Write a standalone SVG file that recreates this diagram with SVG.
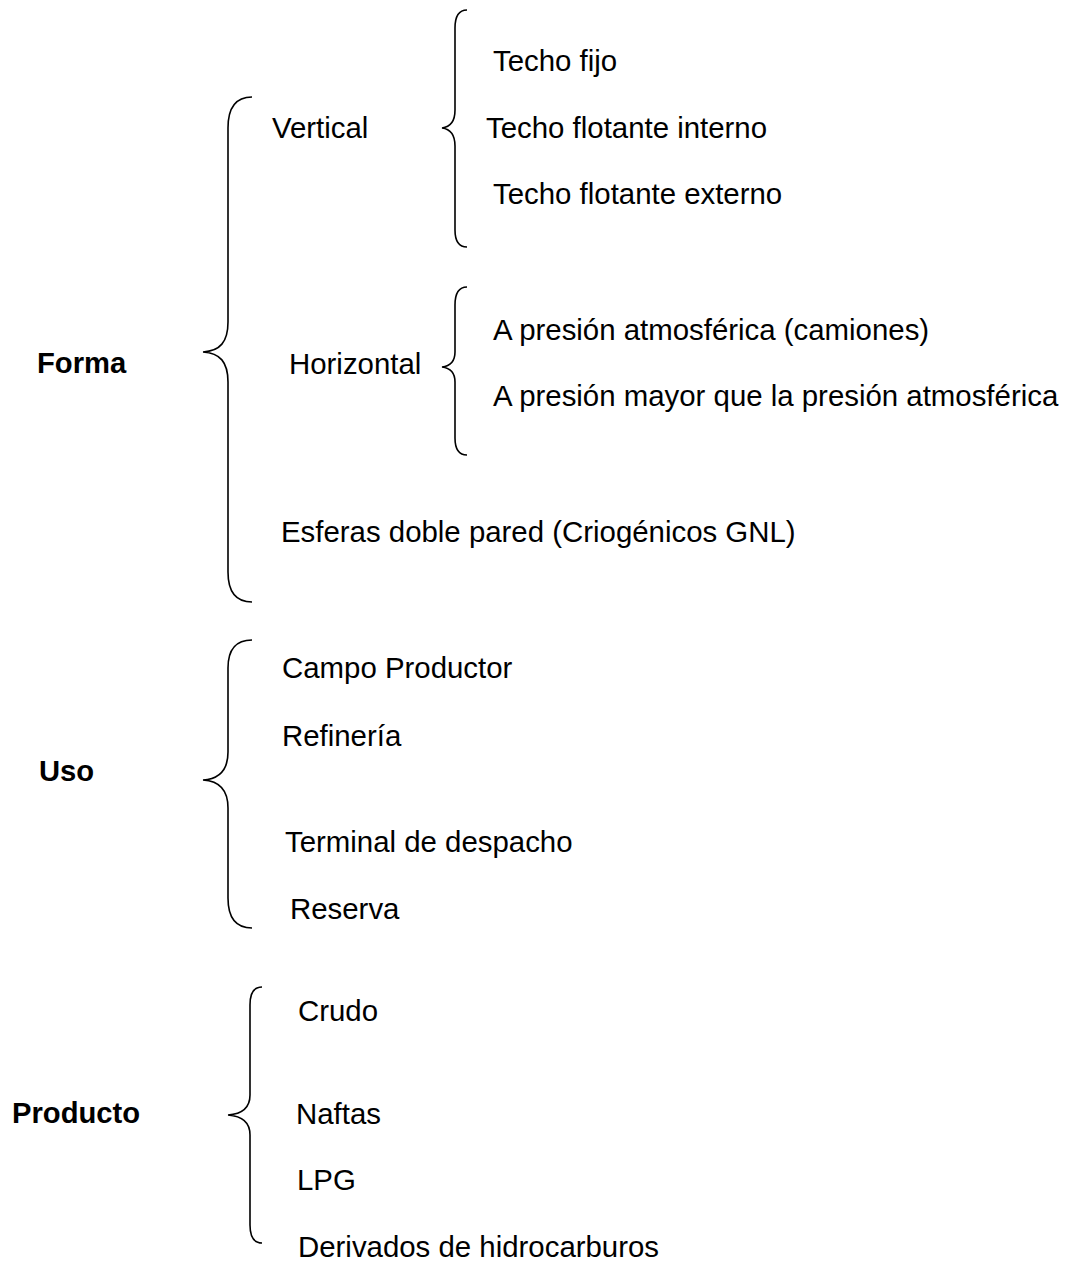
<svg xmlns="http://www.w3.org/2000/svg" width="1067" height="1262" viewBox="0 0 1067 1262">
<style>
.t{font-family:"Liberation Sans",Arial,sans-serif;font-size:29.4px;fill:#000}
.b{font-family:"Liberation Sans",Arial,sans-serif;font-size:29.2px;font-weight:bold;fill:#000}
.br{fill:none;stroke:#000;stroke-width:1.6}
</style>
<rect width="1067" height="1262" fill="#fff"/>
<g id="connectors">
<path class="br" d="M252,97 C236,97 228,108 228,128 L228,322 C228,342 220,351 203,352 C220,353 228,362 228,382 L228,572 C228,592 236,602 252,602"/>
<path class="br" d="M467,10 C459,10 455,16 455,28 L455,110 C455,122 450,127 442,128 C450,129 455,134 455,146 L455,230 C455,242 459,247 467,247"/>
<path class="br" d="M467,287 C459,287 455,293 455,305 L455,352 C455,362 450,366 442,367 C450,368 455,372 455,382 L455,438 C455,450 459,455 467,455"/>
<path class="br" d="M252,640 C236,640 228,650 228,668 L228,752 C228,770 220,779 203,780 C220,781 228,790 228,808 L228,898 C228,918 236,928 252,928"/>
<path class="br" d="M262,987 C254,987 250,993 250,1005 L250,1095 C250,1108 242,1114 228,1115 C242,1116 250,1122 250,1135 L250,1225 C250,1237 254,1243 262,1243"/>
</g>
<g id="forma"><text class="b" x="37" y="373">Forma</text></g>
<g id="vertical"><text class="t" x="272" y="138">Vertical</text></g>
<g id="techo-fijo"><text class="t" x="493" y="71">Techo fijo</text></g>
<g id="techo-interno"><text class="t" x="486" y="138">Techo flotante interno</text></g>
<g id="techo-externo"><text class="t" x="493" y="204">Techo flotante externo</text></g>
<g id="horizontal"><text class="t" x="289" y="374">Horizontal</text></g>
<g id="presion-atm"><text class="t" x="493" y="340">A presión atmosférica (camiones)</text></g>
<g id="presion-mayor"><text class="t" x="493" y="406">A presión mayor que la presión atmosférica</text></g>
<g id="esferas"><text class="t" x="281" y="542">Esferas doble pared (Criogénicos GNL)</text></g>
<g id="uso"><text class="b" x="39" y="781">Uso</text></g>
<g id="campo"><text class="t" x="282" y="678">Campo Productor</text></g>
<g id="refineria"><text class="t" x="282" y="746">Refinería</text></g>
<g id="terminal"><text class="t" x="285" y="852">Terminal de despacho</text></g>
<g id="reserva"><text class="t" x="290" y="919">Reserva</text></g>
<g id="producto"><text class="b" x="12" y="1123">Producto</text></g>
<g id="crudo"><text class="t" x="298" y="1021">Crudo</text></g>
<g id="naftas"><text class="t" x="296" y="1124">Naftas</text></g>
<g id="lpg"><text class="t" x="297" y="1190">LPG</text></g>
<g id="derivados"><text class="t" x="298" y="1257">Derivados de hidrocarburos</text></g>
</svg>
